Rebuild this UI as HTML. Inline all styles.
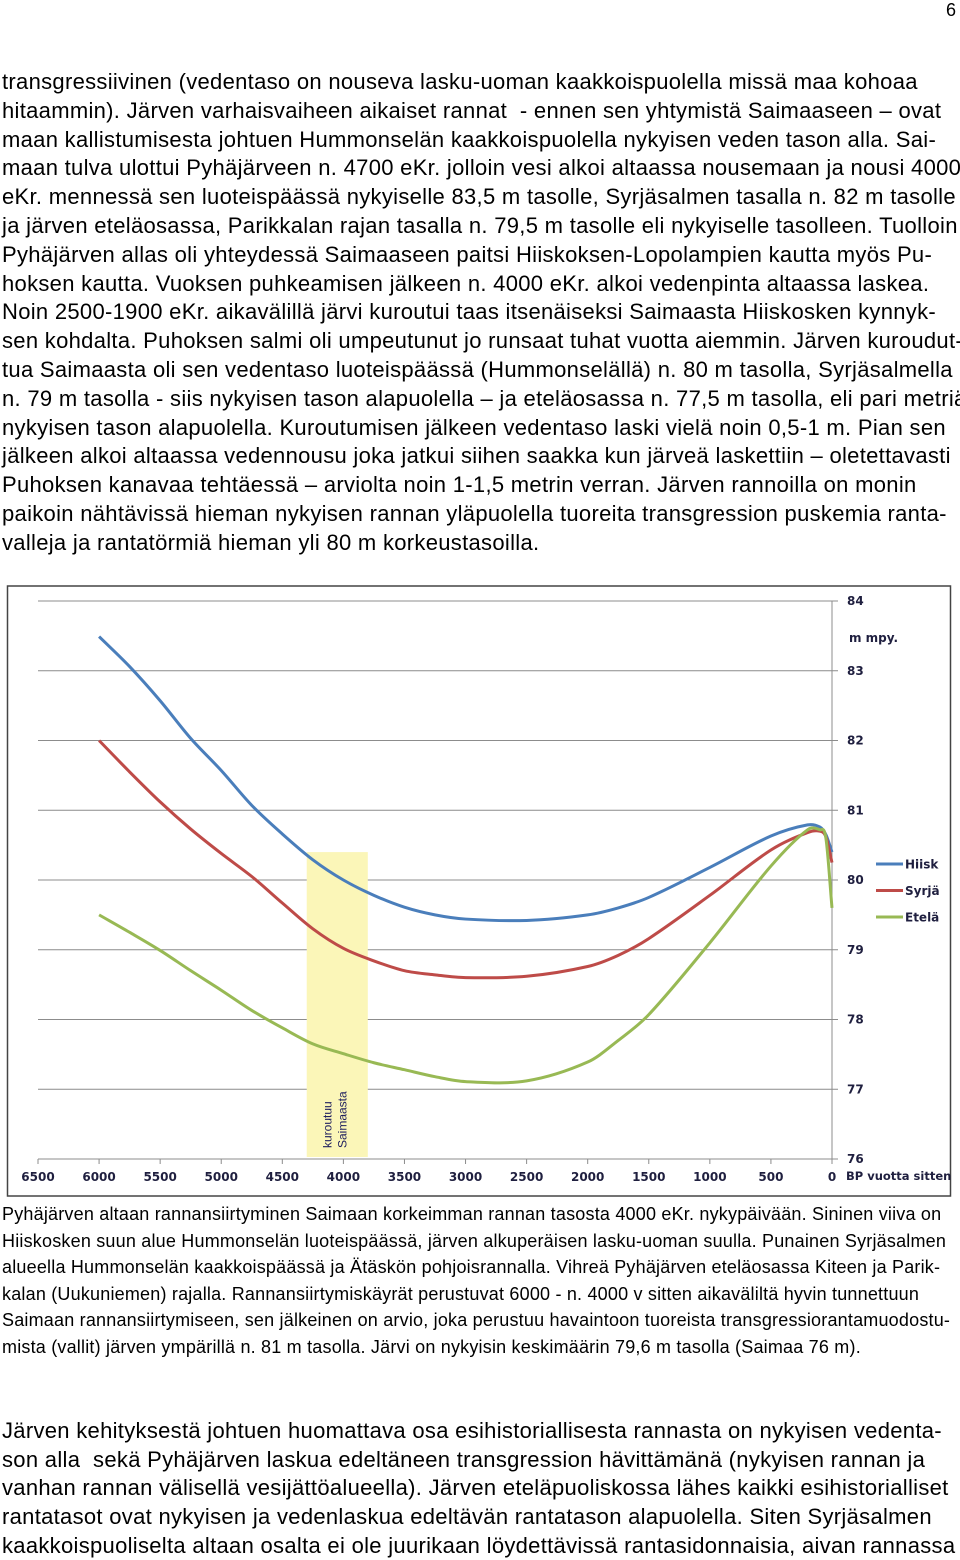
<!DOCTYPE html>
<html><head><meta charset="utf-8">
<style>
body{margin:0;width:960px;height:1558px;background:#fff;position:relative;overflow:hidden;font-family:"Liberation Sans",sans-serif;color:#000}
.t{position:absolute;left:2px;white-space:nowrap}
.p1 div{height:28.8px;line-height:28.8px;font-size:22px;letter-spacing:0.3px}
.cap div{height:26.6px;line-height:26.6px;font-size:18px;letter-spacing:0.2px}
.p2 div{height:28.7px;line-height:28.7px;font-size:22px;letter-spacing:0.3px}
</style></head>
<body>
<div style="position:absolute;left:946px;top:0;font-size:18px">6</div>
<div class="t p1" style="top:68px">
<div>transgressiivinen (vedentaso on nouseva lasku-uoman kaakkoispuolella missä maa kohoaa</div>
<div>hitaammin). Järven varhaisvaiheen aikaiset rannat&nbsp; - ennen sen yhtymistä Saimaaseen – ovat</div>
<div>maan kallistumisesta johtuen Hummonselän kaakkoispuolella nykyisen veden tason alla. Sai-</div>
<div>maan tulva ulottui Pyhäjärveen n. 4700 eKr. jolloin vesi alkoi altaassa nousemaan ja nousi 4000</div>
<div>eKr. mennessä sen luoteispäässä nykyiselle 83,5 m tasolle, Syrjäsalmen tasalla n. 82 m tasolle</div>
<div>ja järven eteläosassa, Parikkalan rajan tasalla n. 79,5 m tasolle eli nykyiselle tasolleen. Tuolloin</div>
<div>Pyhäjärven allas oli yhteydessä Saimaaseen paitsi Hiiskoksen-Lopolampien kautta myös Pu-</div>
<div>hoksen kautta. Vuoksen puhkeamisen jälkeen n. 4000 eKr. alkoi vedenpinta altaassa laskea.</div>
<div>Noin 2500-1900 eKr. aikavälillä järvi kuroutui taas itsenäiseksi Saimaasta Hiiskosken kynnyk-</div>
<div>sen kohdalta. Puhoksen salmi oli umpeutunut jo runsaat tuhat vuotta aiemmin. Järven kuroudut-</div>
<div>tua Saimaasta oli sen vedentaso luoteispäässä (Hummonselällä) n. 80 m tasolla, Syrjäsalmella</div>
<div>n. 79 m tasolla - siis nykyisen tason alapuolella – ja eteläosassa n. 77,5 m tasolla, eli pari metriä</div>
<div>nykyisen tason alapuolella. Kuroutumisen jälkeen vedentaso laski vielä noin 0,5-1 m. Pian sen</div>
<div>jälkeen alkoi altaassa vedennousu joka jatkui siihen saakka kun järveä laskettiin – oletettavasti</div>
<div>Puhoksen kanavaa tehtäessä – arviolta noin 1-1,5 metrin verran. Järven rannoilla on monin</div>
<div>paikoin nähtävissä hieman nykyisen rannan yläpuolella tuoreita transgression puskemia ranta-</div>
<div>valleja ja rantatörmiä hieman yli 80 m korkeustasoilla.</div>
</div>

<svg style="position:absolute;left:0;top:0" width="960" height="1558" id="chart">
<rect x="7.5" y="586" width="943" height="610" fill="#fff" stroke="#444" stroke-width="1.5"/>
<g id="grid"></g>
<g id="band"></g>
<g id="series"></g>
<g id="labels" font-family="'DejaVu Sans',sans-serif" font-weight="bold" font-size="12" fill="#1f1f3f"></g>
</svg>

<div class="t cap" style="top:1201px">
<div>Pyhäjärven altaan rannansiirtyminen Saimaan korkeimman rannan tasosta 4000 eKr. nykypäivään. Sininen viiva on</div>
<div>Hiiskosken suun alue Hummonselän luoteispäässä, järven alkuperäisen lasku-uoman suulla. Punainen Syrjäsalmen</div>
<div>alueella Hummonselän kaakkoispäässä ja Ätäskön pohjoisrannalla. Vihreä Pyhäjärven eteläosassa Kiteen ja Parik-</div>
<div>kalan (Uukuniemen) rajalla. Rannansiirtymiskäyrät perustuvat 6000 - n. 4000 v sitten aikaväliltä hyvin tunnettuun</div>
<div>Saimaan rannansiirtymiseen, sen jälkeinen on arvio, joka perustuu havaintoon tuoreista transgressiorantamuodostu-</div>
<div>mista (vallit) järven ympärillä n. 81 m tasolla. Järvi on nykyisin keskimäärin 79,6 m tasolla (Saimaa 76 m).</div>
</div>

<div class="t p2" style="top:1417px">
<div>Järven kehityksestä johtuen huomattava osa esihistoriallisesta rannasta on nykyisen vedenta-</div>
<div>son alla&nbsp; sekä Pyhäjärven laskua edeltäneen transgression hävittämänä (nykyisen rannan ja</div>
<div>vanhan rannan välisellä vesijättöalueella). Järven eteläpuoliskossa lähes kaikki esihistorialliset</div>
<div>rantatasot ovat nykyisen ja vedenlaskua edeltävän rantatason alapuolella. Siten Syrjäsalmen</div>
<div>kaakkoispuoliselta altaan osalta ei ole juurikaan löydettävissä rantasidonnaisia, aivan rannassa</div>
</div>

<script>
const xTicks=[6500,6000,5500,5000,4500,4000,3500,3000,2500,2000,1500,1000,500,0];
const yTicks=[76,77,78,79,80,81,82,83,84];
const years=[6000,5750,5500,5250,5000,4750,4500,4250,4000,3750,3500,3250,3000,2500,2000,1750,1500,1000,500,200,100,50,0];
const hiisk=[83.49,83.06,82.57,82.03,81.57,81.07,80.66,80.29,80.0,79.78,79.61,79.5,79.44,79.42,79.5,79.6,79.75,80.18,80.63,80.79,80.76,80.65,80.4];
const syrja=[82.0,81.55,81.12,80.73,80.38,80.05,79.67,79.3,79.02,78.84,78.7,78.64,78.6,78.62,78.76,78.92,79.16,79.78,80.43,80.68,80.7,80.62,80.25];
const etela=[79.5,79.25,78.99,78.7,78.42,78.13,77.88,77.65,77.51,77.38,77.28,77.18,77.11,77.12,77.39,77.7,78.07,79.1,80.2,80.72,80.72,80.6,79.6];
const bandRange=[4300,3800];
const bandTop=80.4;
const seriesNames=['Hiisk','Syrjä','Etelä'];
const colors=['#4a7ebb','#be4b48','#98b954'];

const NS='http://www.w3.org/2000/svg';
const X0=38,X1=832,Y0=1159,Y1=601;
const x=t=>X1-(t/6500)*(X1-X0);
const y=v=>Y0-(v-76)/8*(Y0-Y1);
function mk(tag,attrs,parent){const e=document.createElementNS(NS,tag);for(const k in attrs)e.setAttribute(k,attrs[k]);parent.appendChild(e);return e;}
const grid=document.getElementById('grid'),band=document.getElementById('band'),ser=document.getElementById('series'),lab=document.getElementById('labels');
yTicks.forEach(v=>{
  const l=mk('line',{x1:X0,x2:X1+6,y1:y(v),y2:y(v),stroke:'#8c8c8c','stroke-width':1},grid);
  
  
  const t=mk('text',{x:847,y:y(v)+4},lab);t.textContent=v;
  
  
});
mk('line',{x1:X1,x2:X1,y1:Y1,y2:Y0,stroke:'#8c8c8c','stroke-width':1},grid);
xTicks.forEach(v=>{
  const l=mk('line',{x1:x(v),x2:x(v),y1:Y0,y2:Y0+5,stroke:'#8c8c8c'},grid);
  
  
  const t=mk('text',{x:x(v),y:1181,'text-anchor':'middle'},lab);t.textContent=v;
  
  
});
const br=mk('rect',{x:x(bandRange[0]),y:y(bandTop),width:x(bandRange[1])-x(bandRange[0]),height:Y0-2-y(bandTop),fill:'#fbf6b8'},band);


const bx=(x(bandRange[0])+x(bandRange[1]))/2;
['kuroutuu','Saimaasta'].forEach((s,i)=>{
  const t=mk('text',{x:0,y:0,transform:`translate(${bx-6+i*15},1148) rotate(-90)`,'font-family':'Liberation Sans,sans-serif','font-size':12,fill:'#1f1f5f'},band);
  t.textContent=s;
  
  
});
function path(vals){
  const p=years.map((t,i)=>[x(t),y(vals[i])]);
  let d=`M${p[0][0]},${p[0][1]}`;
  for(let i=0;i<p.length-1;i++){
    const a=p[Math.max(i-1,0)],b=p[i],c=p[i+1],e=p[Math.min(i+2,p.length-1)];
    const h=c[0]-b[0];
    const m1=(c[1]-a[1])/((c[0]-a[0])||1), m2=(e[1]-b[1])/((e[0]-b[0])||1);
    d+=` C${b[0]+h/3},${b[1]+m1*h/3} ${c[0]-h/3},${c[1]-m2*h/3} ${c[0]},${c[1]}`;
  }
  return d;
}
[hiisk,syrja,etela].forEach((s,i)=>{
  const pth=mk('path',{d:path(s),fill:'none',stroke:colors[i],'stroke-width':3,'stroke-linejoin':'round'},ser);
  
  
  const ly=864+i*26.5;
  const ll=mk('line',{x1:876,x2:903,y1:ly,y2:ly,stroke:colors[i],'stroke-width':3},ser);
  
  
  const lt=mk('text',{x:905,y:ly+4.5},lab);lt.textContent=seriesNames[i];
  
  
});
const u=mk('text',{x:849,y:642},lab);u.textContent='m mpy.';


const xt=mk('text',{x:846,y:1180,'font-size':11.5},lab);xt.textContent='BP vuotta sitten';


</script>
</body></html>
